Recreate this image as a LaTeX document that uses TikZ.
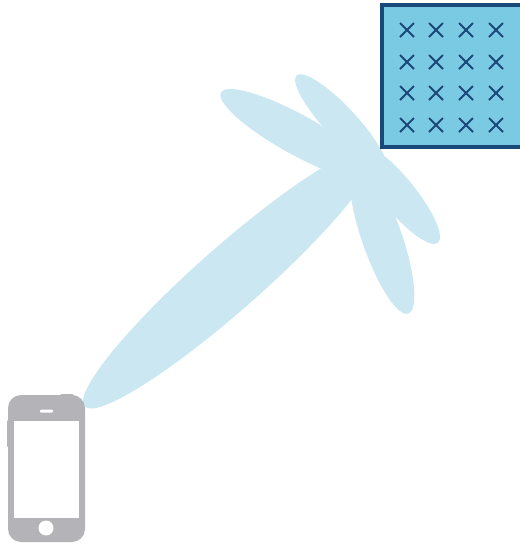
\documentclass[tikz,border=0pt]{standalone}
\usepackage{xcolor}
\definecolor{c1}{RGB}{203,232,242}
\definecolor{c2}{RGB}{123,202,228}
\definecolor{c3}{RGB}{26,72,120}
\definecolor{c4}{RGB}{179,179,184}

\begin{document}
\begin{tikzpicture}[
    x=0.02cm, y=-0.02cm,
    lobe/.style={fill=c1},
    panel/.style={draw=c3, fill=c2, line width=0.065cm},
    cross/.style={draw=c3, line width=0.042cm},
    phone/.style={fill=c4, rounded corners=0.26cm},
    hole/.style={fill=white}]

    \useasboundingbox (0, 0) rectangle (520, 545);

    % ── beam lobes ───────────────────────────────────────────
    \foreach \cx/\cy/\ra/\rb/\ang in {230/278/194/32/41.4, 298/135/88/20/-28.9,
        341/123/65/16/-47, 398/194/63/17/-50.7, 382/238/80/20/-70.8}
        \fill[lobe, rotate around={\ang:(\cx,\cy)}] (\cx,\cy) ellipse (\ra*1 and \rb*1);

    % ── antenna array ────────────────────────────────────────
    \draw[panel] (382, 5) rectangle (523, 147);
    \foreach \px in {407, 436, 466, 496}
      \foreach \py in {30, 62, 93, 125} {
        \draw[cross] (\px-7, \py-7) -- (\px+7, \py+7);
        \draw[cross] (\px-7, \py+7) -- (\px+7, \py-7);
      }

    % ── phone ────────────────────────────────────────────────
    \fill[c4, rounded corners=0.04cm] (60, 394) rectangle (74, 400);
    \fill[c4, rounded corners=0.02cm] (7, 420) rectangle (10, 447);
    \fill[phone] (8, 395) rectangle (85, 542);
    \fill[hole] (14, 421) rectangle (79, 518);
    \fill[hole, rounded corners=0.02cm] (40, 409.5) rectangle (53, 412.5);
    \fill[hole] (46, 528) circle (7.5);

\end{tikzpicture}
\end{document}
